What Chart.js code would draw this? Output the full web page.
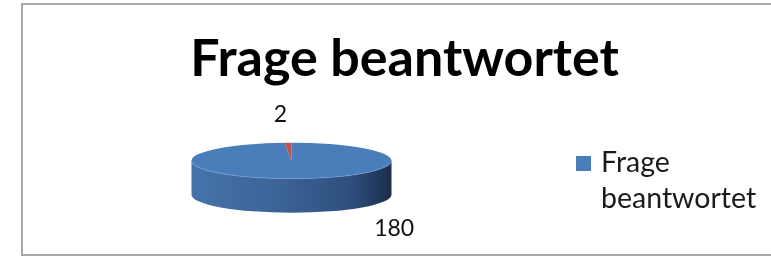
<!DOCTYPE html>
<html><head><meta charset="utf-8">
<script src="https://cdn.jsdelivr.net/npm/chart.js@4.4.0/dist/chart.umd.min.js"></script>
<style>
html,body{margin:0;padding:0;background:#fff;overflow:hidden;width:771px;height:260px;}
#box{position:absolute;left:21px;top:3px;width:767px;height:253px;border:2px solid #a8a8a8;box-sizing:border-box;background:#fff;}
#box canvas{position:absolute;left:0;top:0;}
</style></head><body>
<div id="box"><canvas id="c" width="763" height="249"></canvas></div>
<script>
// ---- data ----
const chartTitle = 'Frage beantwortet';
const categories = ['Frage beantwortet', ''];
const values = [180, 2];
const sliceColors = ['#4a7ebb', '#c0504d'];

// ---- 3D pie drawing (uses the library's arc elements) ----
const pie3d = {
  id: 'pie3d',
  beforeDatasetsDraw(chart, args, opts) {
    const ctx = chart.ctx;
    const meta = chart.getDatasetMeta(0);
    const arcs = meta.data;
    const ds = chart.data.datasets[0];
    if (!arcs.length) return false;
    const cx = arcs[0].x + opts.offsetX, cy = arcs[0].y, r = arcs[0].outerRadius;
    const ry = r * opts.tilt, depth = opts.depth;
    ctx.save();
    const grad = ctx.createLinearGradient(cx - r, 0, cx + r, 0);
    opts.sideStops.forEach(s => grad.addColorStop(s[0], s[1]));
    // outer walls (front half only)
    arcs.forEach((arc, i) => {
      const s = Math.max(arc.startAngle, 0), e = Math.min(arc.endAngle, Math.PI);
      if (e <= s) return;
      ctx.beginPath();
      ctx.ellipse(cx, cy, r, ry, 0, s, e);
      ctx.ellipse(cx, cy + depth, r, ry, 0, e, s, true);
      ctx.closePath();
      ctx.fillStyle = i === 0 ? grad : arc.options.backgroundColor;
      ctx.fill();
    });
    // top faces
    arcs.forEach(arc => {
      ctx.beginPath();
      ctx.moveTo(cx, cy);
      ctx.ellipse(cx, cy, r, ry, 0, arc.startAngle, arc.endAngle);
      ctx.closePath();
      ctx.fillStyle = arc.options.backgroundColor;
      ctx.fill();
    });
    // rim highlight
    ctx.beginPath();
    ctx.ellipse(cx, cy, r, ry, 0, 0, Math.PI);
    ctx.strokeStyle = 'rgba(120,160,215,0.6)';
    ctx.lineWidth = 1;
    ctx.stroke();
    // value labels
    ctx.font = opts.labelFont;
    ctx.fillStyle = opts.labelColor;
    ctx.textAlign = 'center';
    ctx.textBaseline = 'middle';
    arcs.forEach((arc, i) => {
      const th = opts.labelAngles[i] * Math.PI / 180;
      let px = cx + r * Math.cos(th), py = cy + ry * Math.sin(th);
      if (Math.sin(th) > 0) py += depth;
      px += Math.cos(th) * opts.labelGaps[i];
      py += Math.sin(th) * opts.labelGaps[i];
      ctx.fillText(String(ds.data[i]), px, py);
    });
    ctx.restore();
    return false;
  }
};

const sideLegend = {
  id: 'sideLegend',
  afterDraw(chart, args, opts) {
    const ctx = chart.ctx;
    const ds = chart.data.datasets[0];
    ctx.save();
    ctx.font = opts.font;
    ctx.textAlign = 'left';
    ctx.textBaseline = 'alphabetic';
    let y = opts.y;
    chart.data.labels.forEach((lab, i) => {
      if (!lab) return;
      ctx.fillStyle = ds.backgroundColor[i];
      ctx.fillRect(opts.x, y - opts.box + opts.boxShift, opts.box, opts.box);
      const words = lab.split(' ');
      const lines = [];
      let cur = '';
      words.forEach(w => {
        const t = cur ? cur + ' ' + w : w;
        if (cur && ctx.measureText(t).width > opts.maxWidth) { lines.push(cur); cur = w; }
        else cur = t;
      });
      if (cur) lines.push(cur);
      ctx.fillStyle = opts.color;
      lines.forEach((ln, k) => ctx.fillText(ln, opts.x + opts.box + opts.textGap, y + k * opts.lineHeight));
      y += lines.length * opts.lineHeight;
    });
    ctx.restore();
  }
};

new Chart(document.getElementById('c'), {
  type: 'pie',
  data: {
    labels: categories,
    datasets: [{ data: values, backgroundColor: sliceColors, borderWidth: 0 }]
  },
  options: {
    responsive: false,
    devicePixelRatio: 1,
    animation: false,
    radius: 100,
    rotation: 0,
    layout: { padding: { left: 0, right: 0, top: 0, bottom: 23 } },
    plugins: {
      legend: { display: false },
      tooltip: { enabled: false },
      title: {
        display: true,
        text: chartTitle,
        color: '#000',
        font: { family: 'Lato', size: 52, weight: 'bold', lineHeight: 1.2 },
        padding: { top: 23, bottom: 0 }
      },
      pie3d: {
        offsetX: -113,
        tilt: 0.18,
        depth: 34,
        sideStops: [[0, '#4673aa'], [0.45, '#3b6396'], [0.8, '#2e4f7e'], [1, '#1b2e4a']],
        labelFont: '23px Lato',
        labelColor: '#111',
        labelAngles: [40, -95],
        labelGaps: [34, 28]
      },
      sideLegend: {
        x: 553, y: 167, box: 15, boxShift: -1, textGap: 10,
        font: '28.5px Lato', color: '#1a1a1a', lineHeight: 36, maxWidth: 160
      }
    }
  },
  plugins: [pie3d, sideLegend]
});
</script>
</body></html>
